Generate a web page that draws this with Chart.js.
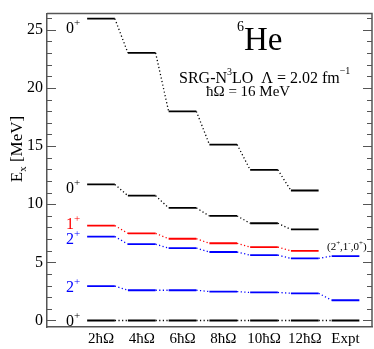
<!DOCTYPE html>
<html>
<head>
<meta charset="utf-8">
<script src="https://cdn.jsdelivr.net/npm/chart.js@4.4.1/dist/chart.umd.min.js"></script>
<style>
  html, body { margin: 0; padding: 0; background: #fff; }
  #wrap { width: 374px; height: 349px; }
</style>
</head>
<body>
<div id="wrap"><canvas id="levelChart"></canvas></div>
<script>
// model spaces + experiment
const frequencies = ['2ħΩ', '4ħΩ', '6ħΩ', '8ħΩ', '10ħΩ', '12ħΩ', 'Expt'];

// excitation energies in MeV, one entry per column (null = no level)
const groundZero = [0, 0, 0, 0, 0, 0, 0];
const lowerTwo = [2.96, 2.60, 2.60, 2.49, 2.41, 2.34, 1.74];
const upperTwo = [7.22, 6.56, 6.22, 5.89, 5.62, 5.34, 5.54];
const onePlus = [8.16, 7.49, 7.03, 6.64, 6.31, 5.98, null];
const secondZero = [11.70, 10.73, 9.68, 8.99, 8.36, 7.83, null];
const thirdZero = [25.95, 23.01, 17.98, 15.13, 12.95, 11.18, null];

const yTicks = [0, 5, 10, 15, 20, 25];

const SERIF = "'Liberation Serif', 'DejaVu Serif', serif";
const halfWidth = 0.34;

const levels = [
  { values: groundZero, spin: '0', color: '#000000', nudge: 0 },
  { values: lowerTwo, spin: '2', color: '#0000ff', nudge: 0 },
  { values: upperTwo, spin: '2', color: '#0000ff', nudge: 1.5 },
  { values: onePlus, spin: '1', color: '#ff0000', nudge: -2 },
  { values: secondZero, spin: '0', color: '#000000', nudge: 3.5 },
  { values: thirdZero, spin: '0', color: '#000000', nudge: 8.5 }
];

function levelPoints(values) {
  const pts = [];
  values.forEach((v, i) => {
    if (v === null) return;
    pts.push({ x: i + 1 - halfWidth, y: v });
    pts.push({ x: i + 1 + halfWidth, y: v });
  });
  return pts;
}

// draw text pieces side by side, some raised/lowered (super/subscripts)
function drawRich(ctx, x, y, parts, align) {
  let total = 0;
  parts.forEach(p => {
    ctx.font = p.size + 'px ' + SERIF;
    p.w = ctx.measureText(p.text).width;
    total += p.w;
  });
  let cx = align === 'right' ? x - total : align === 'center' ? x - total / 2 : x;
  ctx.textAlign = 'left';
  ctx.textBaseline = 'alphabetic';
  parts.forEach(p => {
    ctx.font = p.size + 'px ' + SERIF;
    ctx.fillText(p.text, cx, y - (p.rise || 0));
    cx += p.w;
  });
}

const decorations = {
  id: 'decorations',
  afterDraw(chart) {
    const ctx = chart.ctx;
    const area = chart.chartArea;
    const xs = chart.scales.x;
    const ys = chart.scales.y;
    ctx.save();

    // top and right frame
    ctx.strokeStyle = '#555';
    ctx.lineWidth = 1.5;
    ctx.beginPath();
    ctx.moveTo(area.left, area.top);
    ctx.lineTo(area.right, area.top);
    ctx.lineTo(area.right, area.bottom);
    ctx.stroke();

    // inward ticks on both sides
    ctx.lineWidth = 1;
    for (let v = 0; v <= Math.floor(ys.max); v++) {
      const py = Math.round(ys.getPixelForValue(v)) + 0.5;
      const len = v % 5 === 0 ? 9 : 5;
      ctx.beginPath();
      ctx.moveTo(area.left, py);
      ctx.lineTo(area.left + len, py);
      ctx.moveTo(area.right, py);
      ctx.lineTo(area.right - len, py);
      ctx.stroke();
    }

    // spin labels left of the first column
    levels.forEach(lv => {
      const px = xs.getPixelForValue(1 - halfWidth) - 7;
      const py = ys.getPixelForValue(lv.values[0]) + lv.nudge + 5.5;
      ctx.fillStyle = lv.color;
      drawRich(ctx, px, py, [
        { text: lv.spin, size: 16 },
        { text: '+', size: 11, rise: 7 }
      ], 'right');
    });

    ctx.fillStyle = '#000';
    // nucleus
    drawRich(ctx, 237, 50, [
      { text: '6', size: 14, rise: 19 },
      { text: 'He', size: 33 }
    ], 'left');
    drawRich(ctx, 179, 83, [
      { text: 'SRG-N', size: 16 },
      { text: '3', size: 10, rise: 8 },
      { text: 'LO  Λ = 2.02 fm', size: 16 },
      { text: '−1', size: 10, rise: 9 }
    ], 'left');
    drawRich(ctx, 206, 96, [
      { text: 'ħΩ = 16 MeV', size: 15 }
    ], 'left');

    // experimental spin assignment
    drawRich(ctx, 327, 250, [
      { text: '(2', size: 11 },
      { text: '+', size: 7, rise: 5 },
      { text: ',1', size: 11 },
      { text: '-', size: 7, rise: 5 },
      { text: ',0', size: 11 },
      { text: '+', size: 7, rise: 5 },
      { text: ')', size: 11 }
    ], 'left');

    // y axis title
    ctx.translate(16, 149);
    ctx.rotate(-Math.PI / 2);
    drawRich(ctx, 0, 6, [
      { text: 'E', size: 17 },
      { text: 'x', size: 11, rise: -4 },
      { text: ' [MeV]', size: 17 }
    ], 'center');

    ctx.restore();
  }
};

new Chart(document.getElementById('levelChart'), {
  type: 'line',
  data: {
    datasets: levels.map(lv => ({
      data: levelPoints(lv.values),
      borderColor: lv.color,
      borderWidth: 1.8,
      pointRadius: 0,
      fill: false,
      tension: 0,
      segment: {
        borderDash: ctx => (ctx.p0DataIndex % 2 === 1 ? [1.2, 2.4] : undefined),
        borderWidth: ctx => (ctx.p0DataIndex % 2 === 1 ? 1.3 : 1.8)
      }
    }))
  },
  plugins: [decorations],
  options: {
    responsive: true,
    maintainAspectRatio: false,
    animation: false,
    layout: { padding: { top: 2, right: 2, left: 0, bottom: 0 } },
    plugins: {
      legend: { display: false },
      tooltip: { enabled: false }
    },
    scales: {
      x: {
        type: 'linear',
        min: -0.325,
        max: 7.65,
        grid: { display: false, drawTicks: false },
        border: { display: true, color: '#555', width: 1.5 },
        afterBuildTicks: s => { s.ticks = frequencies.map((_, i) => ({ value: i + 1 })); },
        afterFit: s => { s.height = 22; },
        ticks: {
          autoSkip: false,
          maxRotation: 0,
          padding: 3,
          color: '#000',
          font: { family: SERIF, size: 15 },
          callback: v => frequencies[v - 1]
        }
      },
      y: {
        type: 'linear',
        min: -0.56,
        max: 26.39,
        grid: { display: false, drawTicks: false },
        border: { display: true, color: '#555', width: 1.5 },
        afterBuildTicks: s => { s.ticks = yTicks.map(v => ({ value: v })); },
        afterFit: s => { s.width = 47; },
        ticks: {
          padding: 4,
          color: '#000',
          font: { family: SERIF, size: 16 }
        }
      }
    }
  }
});
</script>
</body>
</html>
